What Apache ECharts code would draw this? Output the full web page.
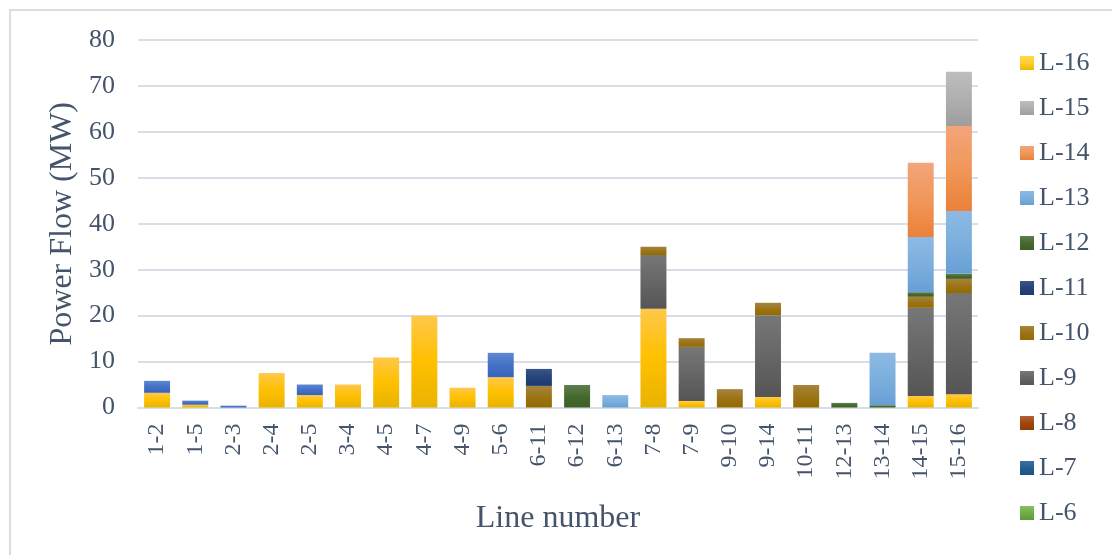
<!DOCTYPE html>
<html><head><meta charset="utf-8">
<script src="https://cdn.jsdelivr.net/npm/echarts@6/dist/echarts.min.js"></script>
<style>html,body{margin:0;padding:0;background:#fff}#c{width:1112px;height:555px}</style>
</head><body><div id="c"></div>
<script>
const categories = ['1-2','1-5','2-3','2-4','2-5','3-4','4-5','4-7','4-9','5-6','6-11','6-12','6-13','7-8','7-9','9-10','9-14','10-11','12-13','13-14','14-15','15-16'];
const yTicks = [0,10,20,30,40,50,60,70,80];
const L4  = [3.2,0.6,0,7.5,2.7,5.0,10.9,20.0,4.3,6.6,0,0,0,21.5,1.4,0,2.3,0,0,0,2.5,2.9];
const L5  = [2.6,0.9,0.4,0,2.3,0,0,0,0,5.3,0,0,0,0,0,0,0,0,0,0,0,0];
const L6  = [0,0,0,0,0,0,0,0,0,0,0,0,0,0,0,0,0,0,0,0,0,0];
const L7  = [0,0,0,0,0,0,0,0,0,0,0,0,0,0,0,0,0,0,0,0,0,0];
const L8  = [0,0,0,0,0,0,0,0,0,0,0,0,0,0,0,0,0,0,0,0,0,0];
const L9  = [0,0,0,0,0,0,0,0,0,0,0,0,0,11.7,11.8,0,17.8,0,0,0,19.2,22.0];
const L10 = [0,0,0,0,0,0,0,0,0,0,4.7,0,0,1.8,1.9,4.0,2.7,4.9,0,0,2.4,3.1];
const L11 = [0,0,0,0,0,0,0,0,0,0,3.7,0,0,0,0,0,0,0,0,0,0,0];
const L12 = [0,0,0,0,0,0,0,0,0,0,0,4.9,0,0,0,0,0,0,1.0,0.5,1.0,1.1];
const L13 = [0,0,0,0,0,0,0,0,0,0,0,0,2.7,0,0,0,0,0,0,11.4,12.0,13.7];
const L14 = [0,0,0,0,0,0,0,0,0,0,0,0,0,0,0,0,0,0,0,0,16.2,18.5];
const L15 = [0,0,0,0,0,0,0,0,0,0,0,0,0,0,0,0,0,0,0,0,0,11.8];
const L16 = [0,0,0,0,0,0,0,0,0,0,0,0,0,0,0,0,0,0,0,0,0,0];
const legendNames = ['L-16','L-15','L-14','L-13','L-12','L-11','L-10','L-9','L-8','L-7','L-6'];

function grad(top, mid, bot){
  return new echarts.graphic.LinearGradient(0,0,0,1,[{offset:0,color:top},{offset:0.5,color:mid},{offset:1,color:bot}]);
}
const seriesDefs = [
  ['L-4', L4, grad('#FFC84A','#FFC000','#E8B300')],
  ['L-5', L5, grad('#5F87D3','#4472C4','#3563BE')],
  ['L-6', L6, grad('#86C067','#70AD47','#5E9A36')],
  ['L-7', L7, grad('#3E70A6','#255E91','#1C5289')],
  ['L-8', L8, grad('#B4603A','#9E480E','#933B00')],
  ['L-9', L9, grad('#777777','#666666','#555555')],
  ['L-10', L10, grad('#A8843F','#9B7416','#946B00')],
  ['L-11', L11, grad('#3A5587','#264478','#1D3A72')],
  ['L-12', L12, grad('#5F7E50','#46692E','#3B6122')],
  ['L-13', L13, grad('#8DBAE4','#7CAFDD','#679FD5')],
  ['L-14', L14, grad('#F3A57A','#F1975A','#EB8039')],
  ['L-15', L15, grad('#BEBEBE','#AFAFAF','#9E9E9E')],
  ['L-16', L16, grad('#FFD84A','#FFCD33','#EDB800')]
];
const series = seriesDefs.map(([name, data, color]) => ({
  name, type:'bar', stack:'total', data, barCategoryGap:'32%',
  itemStyle:{color}, emphasis:{disabled:true}
}));

const chart = echarts.init(document.getElementById('c'), null, {renderer:'canvas'});
const txt = '#44546A';
const font = '"Liberation Serif","Times New Roman",serif';
chart.setOption({
  animation:false,
  textStyle:{fontFamily:font},
  graphic:[{type:'rect', shape:{x:10,y:10,width:1120,height:560}, style:{fill:'none',stroke:'#D9DEE6',lineWidth:2}, silent:true}],
  grid:{left:138, right:134, top:40, bottom:147.5, containLabel:false},
  legend:{
    data:legendNames, orient:'vertical', left:1015, top:45,
    itemWidth:14, itemHeight:14, itemGap:19, icon:'rect',
    textStyle:{fontSize:26, color:txt, fontFamily:font, lineHeight:26}
  },
  xAxis:{
    type:'category', data:categories,
    axisLine:{show:true, lineStyle:{color:'#D9DEE6', width:2}},
    axisTick:{show:false},
    axisLabel:{rotate:90, fontSize:24, color:txt, fontFamily:font, margin:16, interval:0},
    name:'Line number', nameLocation:'middle', nameGap:95,
    nameTextStyle:{fontSize:32, color:txt, fontFamily:font}
  },
  yAxis:{
    type:'value', min:0, max:80, interval:10,
    axisLine:{show:false}, axisTick:{show:false},
    splitLine:{lineStyle:{color:'#D9DEE6', width:2}},
    axisLabel:{fontSize:26, color:txt, fontFamily:font, margin:23,
      formatter:v => yTicks.includes(v) ? String(v) : ''},
    name:'Power Flow (MW)', nameLocation:'middle', nameGap:58,
    nameTextStyle:{fontSize:32, color:txt, fontFamily:font}
  },
  series
});
</script></body></html>
